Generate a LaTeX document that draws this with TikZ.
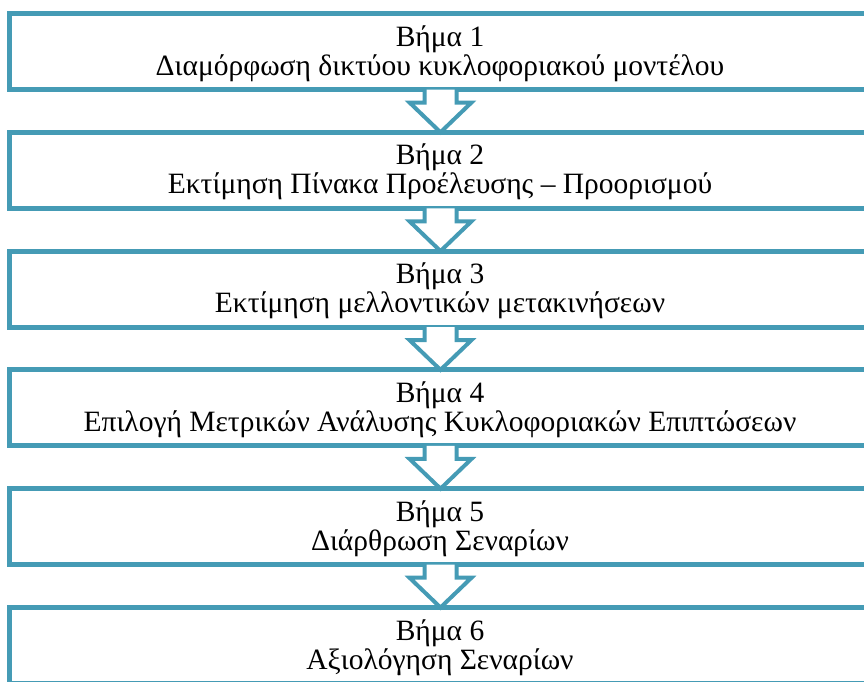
\documentclass[tikz,border=0pt]{standalone}
\usepackage{fontspec}
\setmainfont{Liberation Serif}
\definecolor{teal}{RGB}{69,155,181}
\begin{document}
\begin{tikzpicture}[x=1pt,y=-1pt,
  stepbox/.style={draw=teal,line width=5pt},
  steptext/.style={align=center,font=\fontsize{29.5}{29}\selectfont,inner sep=0pt,anchor=base},
  arrowfill/.style={fill=white,draw=none},
  arrowline/.style={draw=teal,line width=4pt,line join=miter}]
\useasboundingbox (0,0) rectangle (864,681);
\clip (0,0) rectangle (864,681);
\def\bh{76}
\foreach \i/\t [count=\k from 0] in {1/{Διαμόρφωση δικτύου κυκλοφοριακού μοντέλου},
  2/{Εκτίμηση Πίνακα Προέλευσης – Προορισμού},
  3/{Εκτίμηση μελλοντικών μετακινήσεων},
  4/{Επιλογή Μετρικών Ανάλυσης Κυκλοφοριακών Επιπτώσεων},
  5/{Διάρθρωση Σεναρίων},
  6/{Αξιολόγηση Σεναρίων}}{
  \pgfmathsetmacro{\yt}{13.5+\k*118.8}
  \pgfmathsetmacro{\yb}{\yt+\bh}
  \draw[stepbox] (9.5,\yt) rectangle (870.5,\yb);
  \node[steptext] (s\i) at (440,\yt+61.5) {Βήμα \i\\\t};
}
\foreach \k in {0,...,4}{
  \pgfmathsetmacro{\yb}{13.5+\k*118.8+\bh}
  \pgfmathsetmacro{\yn}{13.5+(\k+1)*118.8}
  \pgfmathsetmacro{\yh}{\yb+13}
  \coordinate (a\k) at (440.5,\yb);
  \coordinate (t\k) at (440.5,\yn);
  \fill[arrowfill] ([xshift=-16pt]a\k) -- ([xshift=-16pt]a\k |- 0,\yh) -- ([xshift=-31pt]a\k |- 0,\yh) -- (t\k) -- ([xshift=31pt]a\k |- 0,\yh) -- ([xshift=16pt]a\k |- 0,\yh) -- ([xshift=16pt]a\k) -- cycle;
  \draw[arrowline] ([xshift=-16pt,yshift=1pt]a\k) -- ([xshift=-16pt]a\k |- 0,\yh) -- ([xshift=-31pt]a\k |- 0,\yh) -- (t\k) -- ([xshift=31pt]a\k |- 0,\yh) -- ([xshift=16pt]a\k |- 0,\yh) -- ([xshift=16pt,yshift=1pt]a\k);
}
\end{tikzpicture}
\end{document}
